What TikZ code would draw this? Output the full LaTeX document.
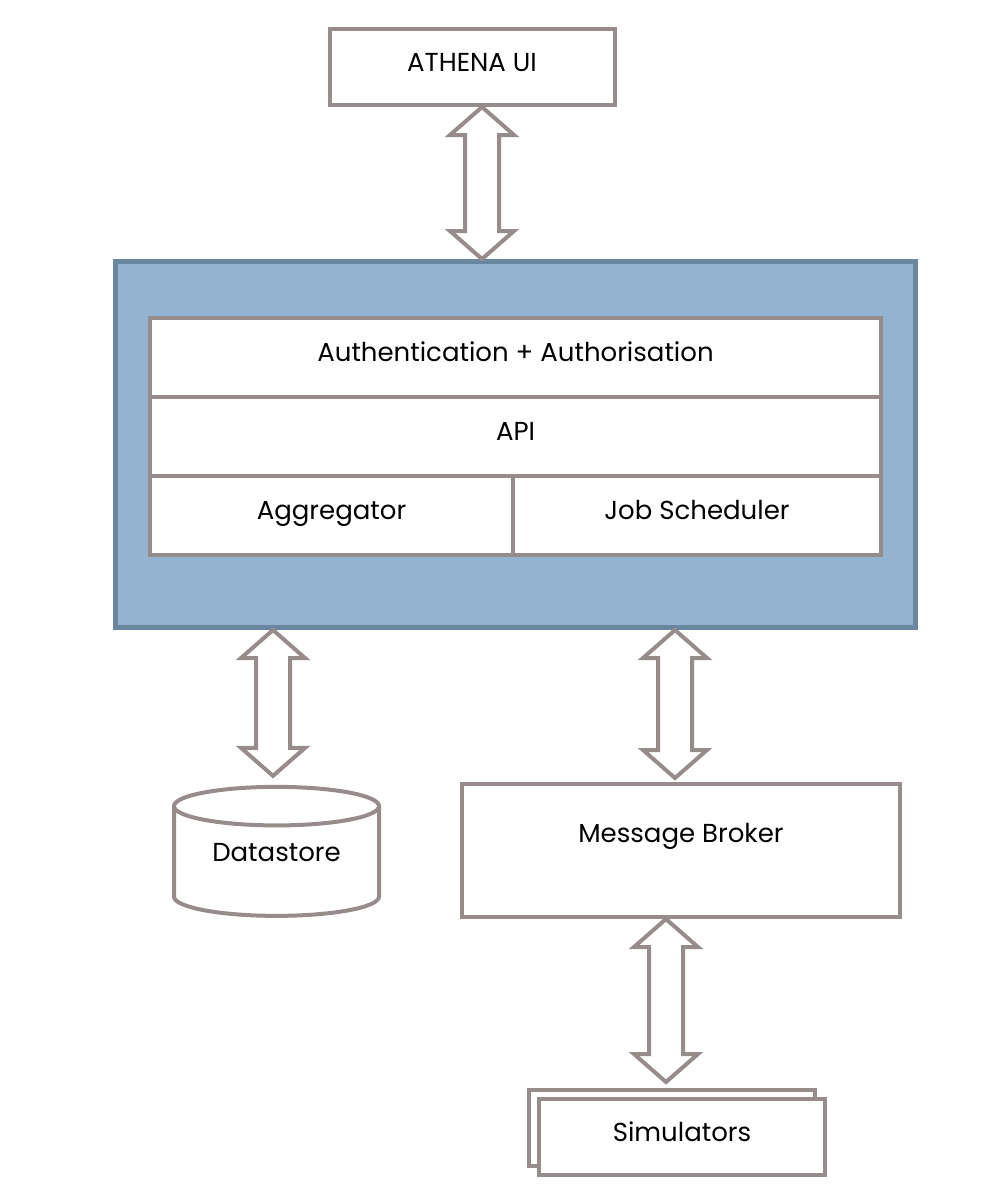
\documentclass[tikz,border=0pt]{standalone}
\usepackage{fontspec}
\setmainfont{Poppins}
\usetikzlibrary{calc,shapes.geometric}
\definecolor{boxgray}{RGB}{151,140,140}
\definecolor{corefill}{RGB}{147,179,208}
\definecolor{coreline}{RGB}{105,135,160}
\newcommand\updown[3]{%
\draw[dblarrow] let \p0=(#1,0), \p1=(#2), \p2=(#3) in
(\x0,\y1) -- (\x0+32pt,\y1-28pt) -- (\x0+17pt,\y1-28pt) -- (\x0+17pt,\y2+28pt)
-- (\x0+32pt,\y2+28pt) -- (\x0,\y2) -- (\x0-32pt,\y2+28pt) -- (\x0-17pt,\y2+28pt)
-- (\x0-17pt,\y1-28pt) -- (\x0-32pt,\y1-28pt) -- cycle;}
\begin{document}
\begin{tikzpicture}[x=1pt,y=-1pt,font=\fontsize{26}{30}\selectfont,
box/.style={draw=boxgray,line width=4pt,fill=white,inner sep=0pt,text height=20pt,text depth=12pt},
dblarrow/.style={draw=boxgray,line width=4pt,fill=white,line join=miter}]
\useasboundingbox (0,0) rectangle (980,1202);

\node (ui) at (472,67) [box,minimum width=285pt,minimum height=76pt] {ATHENA UI};

\node (core) at (515.5,444.5) [draw=coreline,fill=corefill,line width=5pt,minimum width=800pt,minimum height=366pt] {};
\node (auth) at (515.5,357.5) [box,minimum width=731pt,minimum height=79pt] {Authentication + Authorisation};
\node (api) at (515.5,436.5) [box,minimum width=731pt,minimum height=79pt] {API};
\node (agg) at (331.5,515.5) [box,minimum width=363pt,minimum height=79pt] {Aggregator};
\node (sched) at (697,515.5) [box,minimum width=368pt,minimum height=79pt] {Job Scheduler};

\node (store) at (276.5,862) [box,cylinder,shape border rotate=90,aspect=0.3,minimum width=205pt,minimum height=129pt,text depth=21pt] {Datastore};
\node (broker) at (681,850.5) [box,minimum width=438pt,minimum height=133pt,text depth=36pt] {Message Broker};

\node (sim2) at (672,1128) [box,minimum width=286pt,minimum height=76pt] {};
\node (sim) at (682,1137) [box,minimum width=286pt,minimum height=76pt] {Simulators};

\updown{482}{ui.south}{core.north}
\updown{273}{core.south}{$(store.north)+(0,-9)$}
\updown{675}{core.south}{$(broker.north)+(0,-4)$}
\updown{666}{broker.south}{$(sim2.north)+(0,-6)$}
\end{tikzpicture}
\end{document}
